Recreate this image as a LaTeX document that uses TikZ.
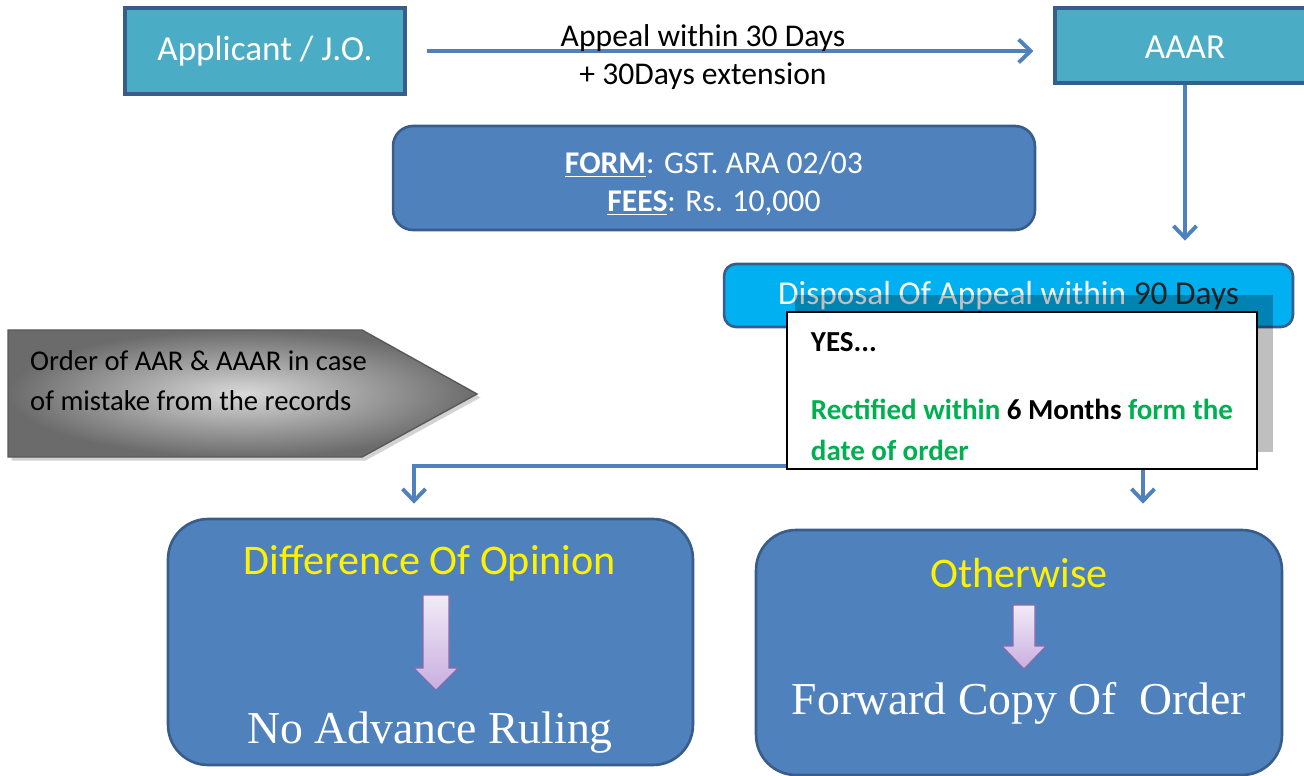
\documentclass[tikz,border=0pt]{standalone}
\usepackage{fontspec}
\setmainfont{Carlito}
\newfontfamily\rulingfont{Liberation Serif}
\usetikzlibrary{arrows.meta,shadows,positioning}

\definecolor{tealfill}{HTML}{4BACC6}
\definecolor{bluefill}{HTML}{4F81BD}
\definecolor{boxline}{HTML}{385D8A}
\definecolor{cyanfill}{HTML}{00B0F0}
\definecolor{greentext}{HTML}{00B050}
\definecolor{darktext}{HTML}{262626}
\definecolor{lilac}{HTML}{C9AEDF}
\definecolor{lilacline}{HTML}{8A6AAE}

\begin{document}
\begin{tikzpicture}[x=0.02cm,y=-0.02cm,
		tealbox/.style={draw=boxline,line width=1.8pt,fill=tealfill,text=white,font=\fontsize{20}{24}\selectfont},
		bluebox/.style={draw=boxline,line width=1.5pt,fill=bluefill},
		flow/.style={draw=bluefill,line width=2.2pt,-{Straight Barb[length=2.4mm,width=4.6mm]}},
		flowline/.style={draw=bluefill,line width=2.2pt},
		yellowtitle/.style={text=yellow,font=\fontsize{24}{28}\selectfont},
		rulingtext/.style={text=white,font=\rulingfont\fontsize{26}{30}\selectfont},
		blockarrow/.style={draw=lilacline,line width=0.6pt,top color=lilac!25,bottom color=lilac}
	]
	\useasboundingbox (0,0) rectangle (1304,776);

	% top row
	\node[tealbox,minimum width=5.6cm,minimum height=1.72cm] (applicant) at (265,51) {Applicant / J.O.};
	\node[tealbox,minimum width=5.2cm,minimum height=1.5cm,text height=15pt,text depth=0pt] (aaar) at (1185,45.5) {AAAR};
	\draw[flow] ([xshift=0.4cm]applicant.east) -- ([xshift=-0.4cm]aaar.west |- applicant.east);
	\node[align=center,font=\fontsize{18}{21.6}\selectfont] (appeal) at (703,57) {Appeal within 30 Days\\+ 30Days extension};

	\node[bluebox,rounded corners=0.4cm,minimum width=12.84cm,minimum height=2.08cm,
		text=white,align=center,font=\fontsize{18}{21.6}\selectfont] (form) at (714,178)
		{\rule{0pt}{19pt}\underline{\textbf{FORM}}: GST. ARA 02/03\\\underline{\textbf{FEES}}: Rs. 10,000};

	\node[draw=boxline,line width=1.5pt,fill=cyanfill,rounded corners=0.24cm,minimum width=11.38cm,
		minimum height=1.26cm,font=\fontsize{19}{23}\selectfont] (disposal) at (1008.5,295.5)
		{\textcolor{white}{Disposal Of Appeal within }\textcolor{darktext}{90 Days}};
	\draw[flow] (aaar.south) -- ([yshift=0.44cm]disposal.north -| aaar.south);

	% split towards the two outcomes
	\coordinate (split) at (1143,466);
	\coordinate (bend) at (414,466);
	\node[bluebox,rounded corners=0.8cm,minimum width=10.5cm,minimum height=4.92cm] (diff) at (430.5,642) {};
	\node[bluebox,rounded corners=0.8cm,minimum width=10.52cm,minimum height=4.9cm] (other) at (1019,652.5) {};
	\draw[flowline] (disposal.south -| split) -- (split);
	\draw[flow] (split) -- (bend) -- ([yshift=0.28cm]bend |- diff.north);
	\draw[flow] (split) -- ([yshift=0.5cm]split |- other.north);

	% callout
	\fill[black,opacity=0.25] (795,295) rectangle (1273,452);
	\node[draw=black,line width=1pt,fill=white,minimum width=9.4cm,minimum height=3.14cm,
		align=left,font=\bfseries\fontsize{16.5}{23.5}\selectfont] (yes) at (1022,390.5)
		{\rule{0pt}{18pt}YES...\\[15pt]\textcolor{greentext}{Rectified within} 6 Months \textcolor{greentext}{form the}\\\textcolor{greentext}{date of order}};

	% rectification note
	\path[draw=gray!70!black,line width=0.8pt,inner color=gray!30,outer color=black!58,
		drop shadow={opacity=0.35,shadow xshift=2pt,shadow yshift=-2pt}]
		(8,330) -- (362,330) -- (477,394) -- (362,457) -- (8,457) -- cycle;
	\node[anchor=west,align=left,font=\fontsize{16.3}{23}\selectfont] (records) at (24,380.5)
		{Order of AAR \& AAAR in case\\of mistake from the records};

	% outcomes
	\node[yellowtitle] (opinion) at (430,563) {Difference Of Opinion};
	\node[rulingtext] (noruling) at (430,733) {No Advance Ruling};
	\path[blockarrow] (423,595) -- (449,595) -- (449,668) -- (458,668) -- (436,690) -- (414,668) -- (423,668) -- cycle;

	\node[yellowtitle] (otherwise) at (1019,573) {Otherwise};
	\node[rulingtext] (forward) at (1019,703) {Forward Copy Of\ \ Order};
	\path[blockarrow] (1013,605) -- (1035,605) -- (1035,646) -- (1046,646) -- (1024,669) -- (1002,646) -- (1013,646) -- cycle;
\end{tikzpicture}
\end{document}
